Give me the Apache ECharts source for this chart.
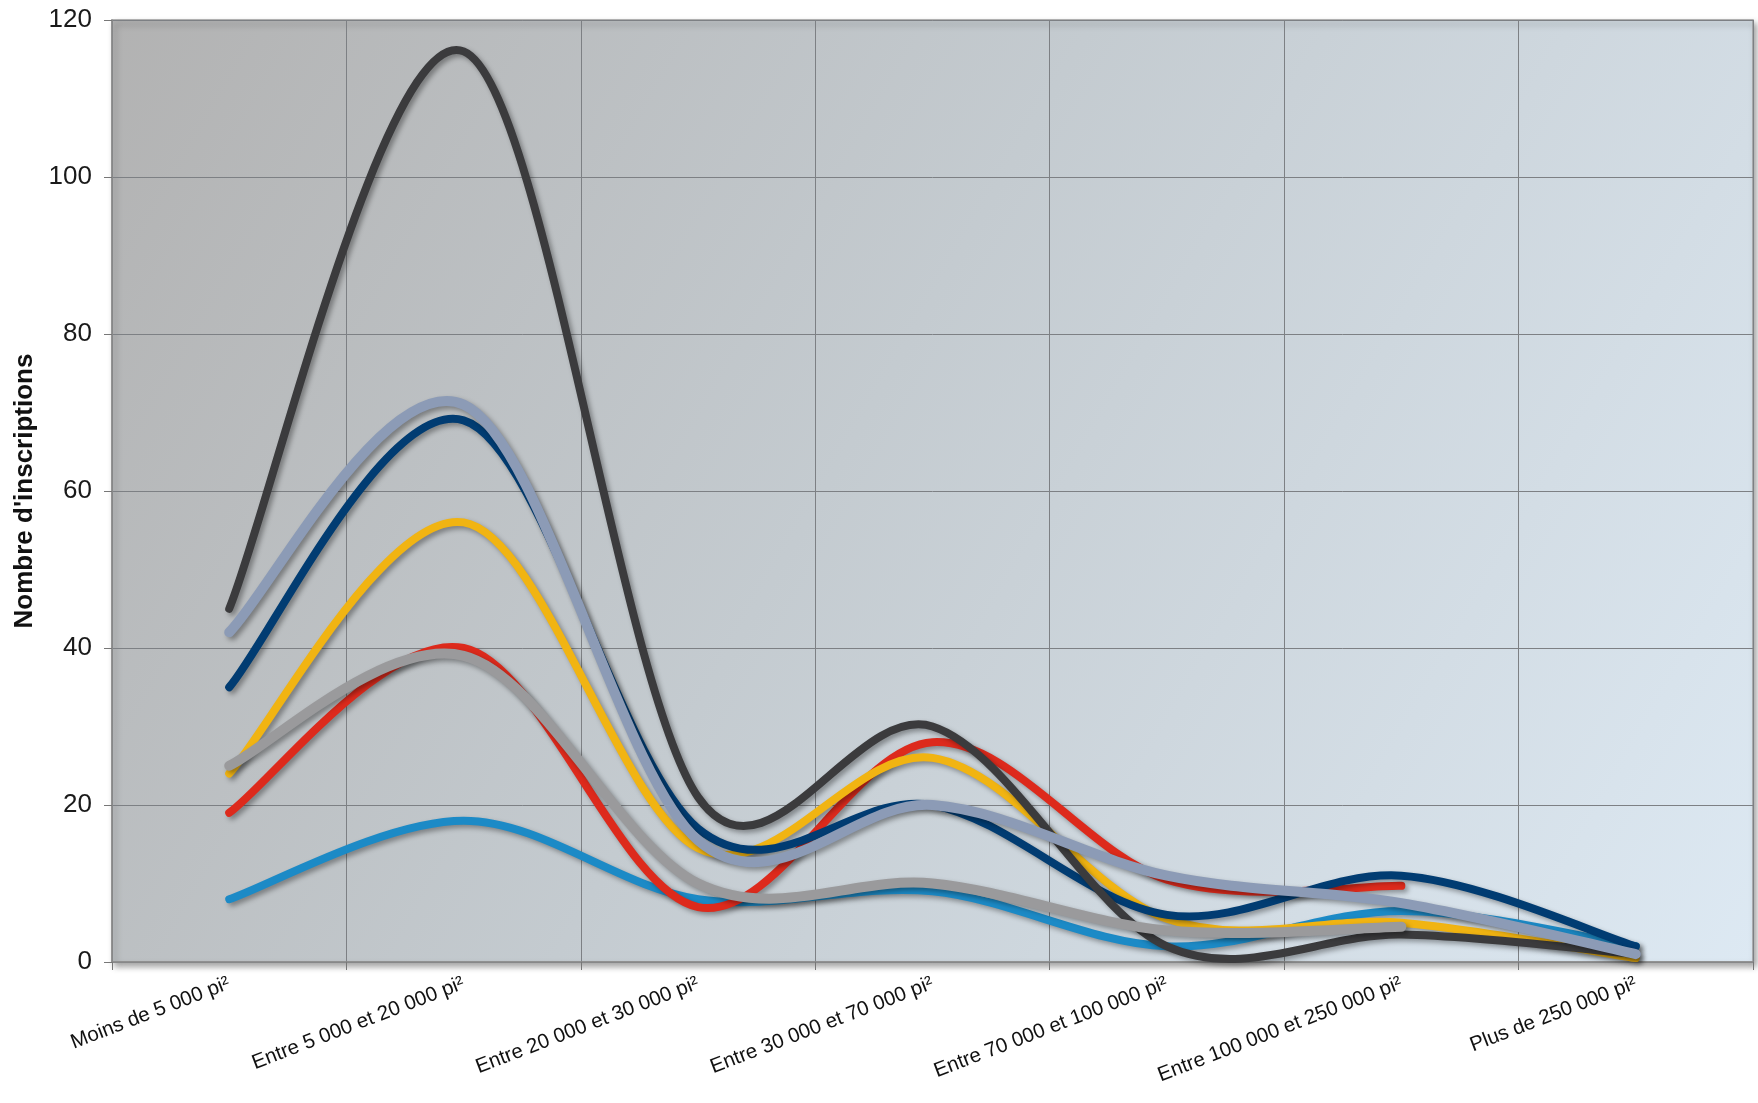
<!DOCTYPE html>
<html lang="fr">
<head>
<meta charset="utf-8">
<title>Nombre d'inscriptions par superficie</title>
<script src="https://cdn.jsdelivr.net/npm/echarts@6/dist/echarts.min.js"></script>
<style>
  html, body { margin: 0; padding: 0; background: #ffffff; }
  #chart { width: 1758px; height: 1103px; }
</style>
</head>
<body>
<div id="chart"></div>
<script>
// Catégories de superficie (axe horizontal)
const categories = [
  'Moins de 5 000 pi²',
  'Entre 5 000 et 20 000 pi²',
  'Entre 20 000 et 30 000 pi²',
  'Entre 30 000 et 70 000 pi²',
  'Entre 70 000 et 100 000 pi²',
  'Entre 100 000 et 250 000 pi²',
  'Plus de 250 000 pi²'
];

// Graduations de l'axe vertical
const yTicks = [0, 20, 40, 60, 80, 100, 120];

// Nombre d'inscriptions par série
const serieCharbon = [45, 116, 21, 30, 2, 3.5, 1];
const serieMarine  = [35, 69, 17, 20, 6, 11, 2];
const serieJaune   = [24, 56, 14.5, 26, 5.5, 5, 0.5];
const serieRouge   = [19, 40, 7, 28, 10.5, 9.7, null];
const serieBleu    = [8, 18, 8, 9, 2, 6.5, 2];
const serieGris    = [25, 39, 10, 10, 4, 4.5, null];
const serieArdoise = [42, 71, 15.5, 20, 11, 7.5, 1];

const seriesDefs = [
  { name: 'Série 1', values: serieBleu,    color: '#1c8ac6', width: 8 },
  { name: 'Série 2', values: serieRouge,   color: '#dd2a1c', width: 8 },
  { name: 'Série 3', values: serieJaune,   color: '#f1b412', width: 8 },
  { name: 'Série 4', values: serieMarine,  color: '#013c72', width: 8 },
  { name: 'Série 5', values: serieCharbon, color: '#3b3b3d', width: 8 },
  { name: 'Série 6', values: serieGris,    color: '#9a9a9c', width: 10 },
  { name: 'Série 7', values: serieArdoise, color: '#8c9bb6', width: 10 }
];

// Courbe lissée passant par chaque point (Bézier de type Catmull-Rom,
// poignées limitées à la moitié du segment), en coordonnées écran.
function smoothPath(values, api) {
  const pts = [];
  values.forEach((v, i) => {
    if (v !== null && v !== undefined) pts.push(api.coord([i, v]));
  });
  if (!pts.length) return '';
  const dist = (a, b) => Math.hypot(b[0] - a[0], b[1] - a[1]);
  let d = 'M' + pts[0][0] + ' ' + pts[0][1];
  for (let i = 0; i < pts.length - 1; i++) {
    const p0 = pts[i - 1] || pts[i];
    const p1 = pts[i];
    const p2 = pts[i + 1];
    const p3 = pts[i + 2] || pts[i + 1];
    const d12 = dist(p1, p2);
    const d02 = dist(p0, p2);
    const d13 = dist(p1, p3);
    const f1 = d02 > 0 ? Math.min(1 / 6, d12 / (2 * d02)) : 0;
    const f2 = d13 > 0 ? Math.min(1 / 6, d12 / (2 * d13)) : 0;
    const b1 = [p1[0] + (p2[0] - p0[0]) * f1, p1[1] + (p2[1] - p0[1]) * f1];
    const b2 = [p2[0] - (p3[0] - p1[0]) * f2, p2[1] - (p3[1] - p1[1]) * f2];
    d += ' C' + b1[0] + ' ' + b1[1] + ' ' + b2[0] + ' ' + b2[1] + ' ' + p2[0] + ' ' + p2[1];
  }
  return d;
}

const chart = echarts.init(document.getElementById('chart'), null, { renderer: 'canvas' });

const font = '"Liberation Sans", Arial, Helvetica, sans-serif';

chart.setOption({
  animation: false,
  backgroundColor: '#ffffff',
  grid: {
    left: 112,
    right: 5,
    top: 20,
    bottom: 141,
    show: true,
    outerBoundsMode: 'none',
    containLabel: false,
    borderColor: '#9a9a9a',
    borderWidth: 1.5,
    backgroundColor: {
      type: 'linear', x: 0, y: 0, x2: 1, y2: 1,
      colorStops: [
        { offset: 0, color: '#b2b2b2' },
        { offset: 0.45, color: '#c4cbd0' },
        { offset: 1, color: '#dde9f3' }
      ]
    },
    shadowColor: 'rgba(0,0,0,0.35)',
    shadowBlur: 6,
    shadowOffsetX: 3,
    shadowOffsetY: 4
  },
  xAxis: {
    type: 'category',
    data: categories,
    boundaryGap: true,
    axisLine: { show: true, lineStyle: { color: '#8a8a8a', width: 1.5 } },
    axisTick: { show: true, alignWithLabel: false, length: 8, lineStyle: { color: '#777' } },
    splitLine: { show: true, lineStyle: { color: '#7d8084', width: 1 } },
    axisLabel: {
      rotate: 21,
      margin: 21,
      interval: 0,
      color: '#111',
      fontFamily: font,
      fontSize: 20.5
    }
  },
  yAxis: {
    type: 'value',
    min: yTicks[0],
    max: yTicks[yTicks.length - 1],
    interval: yTicks[1] - yTicks[0],
    name: "Nombre d'inscriptions",
    nameLocation: 'middle',
    nameGap: 70,
    nameRotate: 90,
    nameTextStyle: {
      fontFamily: font,
      fontSize: 26,
      fontWeight: 'bold',
      color: '#111'
    },
    axisLine: { show: true, lineStyle: { color: '#8a8a8a', width: 1.5 } },
    axisTick: { show: true, length: 8, lineStyle: { color: '#777' } },
    splitLine: { show: true, lineStyle: { color: '#7d8084', width: 1 } },
    axisLabel: {
      margin: 20,
      color: '#1a1a1a',
      fontFamily: font,
      fontSize: 26
    }
  },
  series: seriesDefs.map(s => ({
    name: s.name,
    type: 'custom',
    coordinateSystem: 'cartesian2d',
    silent: true,
    encode: { x: 0, y: 1 },
    data: s.values
      .map((v, i) => [i, v])
      .filter(p => p[1] !== null && p[1] !== undefined),
    renderItem: (params, api) => {
      if (params.dataIndex !== 0) return null;
      return {
        type: 'path',
        shape: { pathData: smoothPath(s.values, api) },
        style: {
          fill: 'none',
          stroke: s.color,
          lineWidth: s.width,
          lineCap: 'round',
          lineJoin: 'round',
          shadowColor: 'rgba(0,0,0,0.35)',
          shadowBlur: 5,
          shadowOffsetX: 3,
          shadowOffsetY: 3
        }
      };
    }
  }))
});
</script>
</body>
</html>
